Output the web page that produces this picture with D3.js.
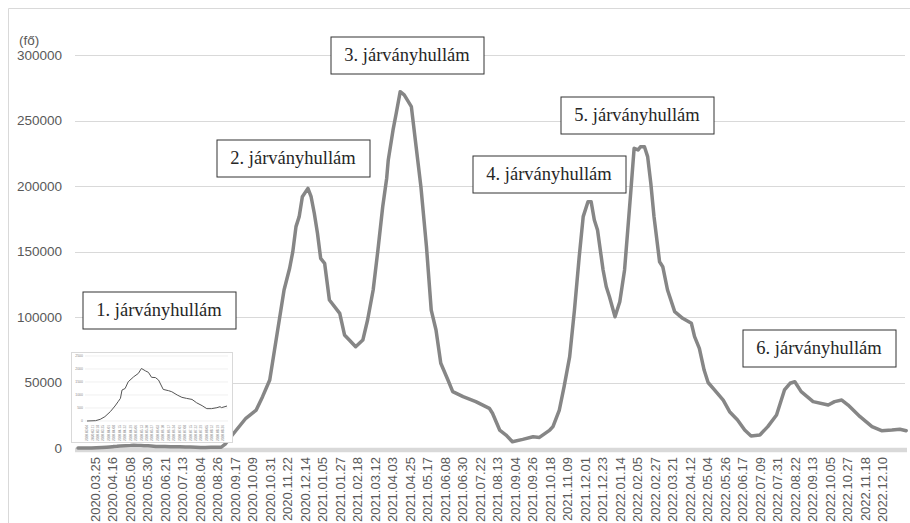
<!DOCTYPE html>
<html>
<head>
<meta charset="utf-8">
<script src="https://cdn.jsdelivr.net/npm/d3@7"></script>
<style>
  body { margin: 0; background: #fff; }
  svg { display: block; }
</style>
</head>
<body>
<div id="chart"></div>
<script>
// first wave (also shown in the small inset chart)
const wave1Dates = ["2020.03.04","2020.03.15","2020.03.21","2020.03.27","2020.04.03","2020.04.09","2020.04.13","2020.04.16","2020.04.18","2020.04.22","2020.04.26","2020.05.03","2020.05.09","2020.05.13","2020.05.18","2020.05.22","2020.05.26","2020.05.31","2020.06.04","2020.06.10","2020.06.17","2020.06.21","2020.06.28","2020.07.04","2020.07.10","2020.07.17","2020.07.23","2020.07.30","2020.08.05","2020.08.11","2020.08.18","2020.08.22","2020.08.24","2020.08.31"];
const wave1Values = [0,13,64,167,360,577,744,872,1190,1250,1510,1700,1830,2020,1930,1870,1680,1670,1575,1215,1165,1126,1000,910,870,830,700,590,475,475,512,550,515,576];

// later waves
const laterDates = ["2020.09.05","2020.09.14","2020.10.01","2020.10.14","2020.10.22","2020.10.31","2020.11.06","2020.11.12","2020.11.18","2020.11.25","2020.11.29","2020.12.03","2020.12.07","2020.12.11","2020.12.18","2020.12.22","2020.12.26","2020.12.30",
  "2021.01.03","2021.01.08","2021.01.14","2021.01.27","2021.02.02","2021.02.08","2021.02.16","2021.02.25","2021.03.03","2021.03.10","2021.03.16","2021.03.22","2021.03.27","2021.03.29","2021.04.04","2021.04.08","2021.04.13","2021.04.18","2021.04.27","2021.05.03","2021.05.09","2021.05.16","2021.05.22","2021.05.28","2021.06.03","2021.06.12","2021.06.18","2021.07.01","2021.07.17","2021.08.03","2021.08.07","2021.08.16","2021.08.24","2021.09.01","2021.09.14","2021.09.27","2021.10.05","2021.10.18","2021.10.22","2021.10.30","2021.11.05","2021.11.12","2021.11.18","2021.11.24","2021.11.29","2021.12.05","2021.12.09","2021.12.13","2021.12.17","2021.12.24","2021.12.28",
  "2022.01.01","2022.01.08","2022.01.14","2022.01.20","2022.01.24","2022.01.28","2022.02.01","2022.02.06","2022.02.09","2022.02.14","2022.02.18","2022.02.22","2022.02.26","2022.03.05","2022.03.09","2022.03.15","2022.03.24","2022.04.03","2022.04.14","2022.04.18","2022.04.24","2022.04.30","2022.05.05","2022.05.13","2022.05.24","2022.06.01","2022.06.11","2022.06.20","2022.06.28","2022.07.09","2022.07.19","2022.07.30","2022.08.09","2022.08.16","2022.08.22","2022.08.30","2022.09.14","2022.10.03","2022.10.11","2022.10.20","2022.10.28","2022.11.12","2022.11.27","2022.12.09","2022.12.22","2023.01.01","2023.01.09"];
const laterValues = [3000,9900,22700,29000,39200,51900,74800,97700,120600,137200,149900,169000,176600,191800,198200,191800,179200,163900,
  144800,141000,113000,102800,86300,82400,77300,82400,97700,120600,151200,184200,206000,219900,242800,255500,272000,269500,260600,230000,199500,153700,105300,90100,64700,51900,43000,39200,35400,30300,26500,13700,9900,4800,6600,8600,8100,13700,16300,29000,46800,69700,105300,146000,176600,188000,188000,174000,166400,135900,123100,
  115500,100200,111700,135900,166400,197000,228800,227500,230000,230000,222400,202000,176600,142200,138400,120600,104100,99000,95200,85000,76100,59500,50000,44300,36600,27700,21400,13700,9200,9900,16300,25200,44300,49400,50600,43000,35400,32800,35400,36600,32800,23900,16300,13200,13700,14300,13200];

const yTicks = [0, 50000, 100000, 150000, 200000, 250000, 300000];
const xTickLabels = ["2020.03.25","2020.04.16","2020.05.08","2020.05.30","2020.06.21","2020.07.13","2020.08.04","2020.08.26","2020.09.17","2020.10.09","2020.10.31","2020.11.22","2020.12.14",
  "2021.01.05","2021.01.27","2021.02.18","2021.03.12","2021.04.03","2021.04.25","2021.05.17","2021.06.08","2021.06.30","2021.07.22","2021.08.13","2021.09.04","2021.09.26","2021.10.18","2021.11.09","2021.12.01","2021.12.23",
  "2022.01.14","2022.02.05","2022.02.27","2022.03.21","2022.04.12","2022.05.04","2022.05.26","2022.06.17","2022.07.09","2022.07.31","2022.08.22","2022.09.13","2022.10.05","2022.10.27","2022.11.18","2022.12.10"];

// wave annotations: text, anchor date, anchor value (box centre)
const waveNames = ["1. járványhullám","2. járványhullám","3. járványhullám","4. járványhullám","5. járványhullám","6. járványhullám"];
const waveDates = ["2020.06.14","2020.11.29","2021.04.21","2021.10.17","2022.02.05","2022.09.21"];
const waveValues = [105000, 221500, 300000, 209000, 254000, 76000];

// inset
const insetYTicks = [0, 500, 1000, 1500, 2000, 2500];
const insetXLabels = ["2020.03.04","2020.03.11","2020.03.18","2020.03.25","2020.04.01","2020.04.08","2020.04.15","2020.04.22","2020.04.29","2020.05.06","2020.05.13","2020.05.20","2020.05.27","2020.06.03","2020.06.10","2020.06.17","2020.06.24","2020.07.01","2020.07.08","2020.07.15","2020.07.22","2020.07.29","2020.08.05","2020.08.12","2020.08.19","2020.08.26"];

const parse = d3.timeParse("%Y.%m.%d");
const W = 910, H = 523;
const plot = {left: 78, right: 907, top: 55, bottom: 448};

const svg = d3.select("#chart").append("svg")
    .attr("width", W)
    .attr("height", H);

// chart frame
svg.append("path")
    .attr("d", `M8.5,${H + 5}V8.5H${W + 5}`)
    .attr("fill", "none")
    .attr("stroke", "#d9d9d9");

const x = d3.scaleTime()
    .domain([parse("2020.03.04"), parse("2023.01.10")])
    .range([plot.left, plot.right]);

const y = d3.scaleLinear()
    .domain([0, 300000])
    .range([plot.bottom, plot.top]);

// grid lines
svg.append("g")
    .selectAll("line")
    .data(yTicks)
    .enter()
    .append("line")
    .attr("x1", plot.left - 3)
    .attr("x2", plot.right - 2)
    .attr("y1", d => Math.round(y(d)) + 0.5)
    .attr("y2", d => Math.round(y(d)) + 0.5)
    .attr("stroke", "#d9d9d9")
    .attr("stroke-width", 1);

// x axis band
svg.append("line")
    .attr("x1", plot.left - 3)
    .attr("x2", plot.right)
    .attr("y1", y(0) + 2)
    .attr("y2", y(0) + 2)
    .attr("stroke", "#d9d9d9")
    .attr("stroke-width", 4.5);

// y axis labels
const yAxis = svg.append("g")
    .attr("transform", `translate(${plot.left - 3},0)`)
    .call(d3.axisLeft(y).tickValues(yTicks).tickSize(0).tickPadding(13).tickFormat(d3.format("d")));
yAxis.select(".domain").remove();
yAxis.selectAll("text")
    .style("font-family", "'Liberation Sans', Arial, sans-serif")
    .style("font-size", "13.5px")
    .attr("fill", "#595959");

svg.append("text")
    .attr("x", 19)
    .attr("y", 45)
    .style("font-family", "'Liberation Sans', Arial, sans-serif")
    .style("font-size", "13.5px")
    .attr("fill", "#595959")
    .text("(fő)");

// x axis labels
const xAxis = svg.append("g")
    .attr("transform", `translate(0,${plot.bottom + 9})`)
    .call(d3.axisBottom(x).tickValues(xTickLabels.map(parse)).tickSize(0).tickPadding(0).tickFormat(d3.timeFormat("%Y.%m.%d")));
xAxis.select(".domain").remove();
xAxis.selectAll("text")
    .attr("transform", "rotate(-90)")
    .attr("text-anchor", "end")
    .attr("x", 0)
    .attr("y", 0)
    .attr("dy", "0.35em")
    .style("font-family", "'Liberation Sans', Arial, sans-serif")
    .style("font-size", "13px")
    .attr("fill", "#595959");

// main line
const mainData = wave1Dates.concat(laterDates).map((d, i) => ({
    date: parse(d),
    value: wave1Values.concat(laterValues)[i]
}));

const line = d3.line()
    .x(d => x(d.date))
    .y(d => y(d.value));

svg.append("path")
    .datum(mainData)
    .attr("fill", "none")
    .attr("stroke", "#868686")
    .attr("stroke-width", 3.5)
    .attr("stroke-linejoin", "round")
    .attr("stroke-linecap", "round")
    .attr("d", line);

// inset chart of the first wave
const inset = {left: 71, top: 352, width: 161, height: 90};
const ig = svg.append("g");

ig.append("rect")
    .attr("x", inset.left + 0.5)
    .attr("y", inset.top + 0.5)
    .attr("width", inset.width)
    .attr("height", inset.height)
    .attr("fill", "#fff")
    .attr("stroke", "#d9d9d9");

const ix = d3.scaleTime()
    .domain([parse("2020.03.04"), parse("2020.08.31")])
    .range([inset.left + 16, inset.left + 156]);

const iy = d3.scaleLinear()
    .domain([0, 2500])
    .range([inset.top + 69, inset.top + 4]);

ig.append("g")
    .selectAll("line")
    .data(insetYTicks)
    .enter()
    .append("line")
    .attr("x1", inset.left + 14)
    .attr("x2", inset.left + 157)
    .attr("y1", d => iy(d))
    .attr("y2", d => iy(d))
    .attr("stroke", "#e6e6e6")
    .attr("stroke-width", 0.6);

ig.append("g")
    .selectAll("text")
    .data(insetYTicks)
    .enter()
    .append("text")
    .attr("x", inset.left + 12)
    .attr("y", d => iy(d))
    .attr("dy", "0.35em")
    .attr("text-anchor", "end")
    .style("font-family", "'Liberation Sans', Arial, sans-serif")
    .style("font-size", "3.5px")
    .attr("fill", "#888")
    .text(d => d);

ig.append("g")
    .selectAll("text")
    .data(insetXLabels)
    .enter()
    .append("text")
    .attr("transform", d => `translate(${ix(parse(d))},${inset.top + 73}) rotate(-90)`)
    .attr("dy", "0.35em")
    .attr("text-anchor", "end")
    .style("font-family", "'Liberation Sans', Arial, sans-serif")
    .style("font-size", "3.2px")
    .attr("fill", "#888")
    .text(d => d);

const insetLine = d3.line()
    .x(d => ix(d.date))
    .y(d => iy(d.value));

ig.append("path")
    .datum(wave1Dates.map((d, i) => ({date: parse(d), value: wave1Values[i]})))
    .attr("fill", "none")
    .attr("stroke", "#555")
    .attr("stroke-width", 1)
    .attr("stroke-linejoin", "round")
    .attr("d", insetLine);

// wave labels
const boxW = 153, boxH = 37;
const labels = svg.append("g")
    .selectAll("g")
    .data(waveNames)
    .enter()
    .append("g")
    .attr("transform", (d, i) => `translate(${Math.round(x(parse(waveDates[i])))},${Math.round(y(waveValues[i]))})`);

labels.append("rect")
    .attr("x", -boxW / 2 + 0.5)
    .attr("y", -boxH / 2 + 0.5)
    .attr("width", boxW)
    .attr("height", boxH)
    .attr("fill", "#fff")
    .attr("stroke", "#333")
    .attr("stroke-width", 1);

labels.append("text")
    .attr("text-anchor", "middle")
    .attr("dy", "0.35em")
    .style("font-family", "'Liberation Serif', 'Times New Roman', serif")
    .style("font-size", "18.5px")
    .attr("fill", "#262626")
    .text(d => d);
</script>
</body>
</html>
